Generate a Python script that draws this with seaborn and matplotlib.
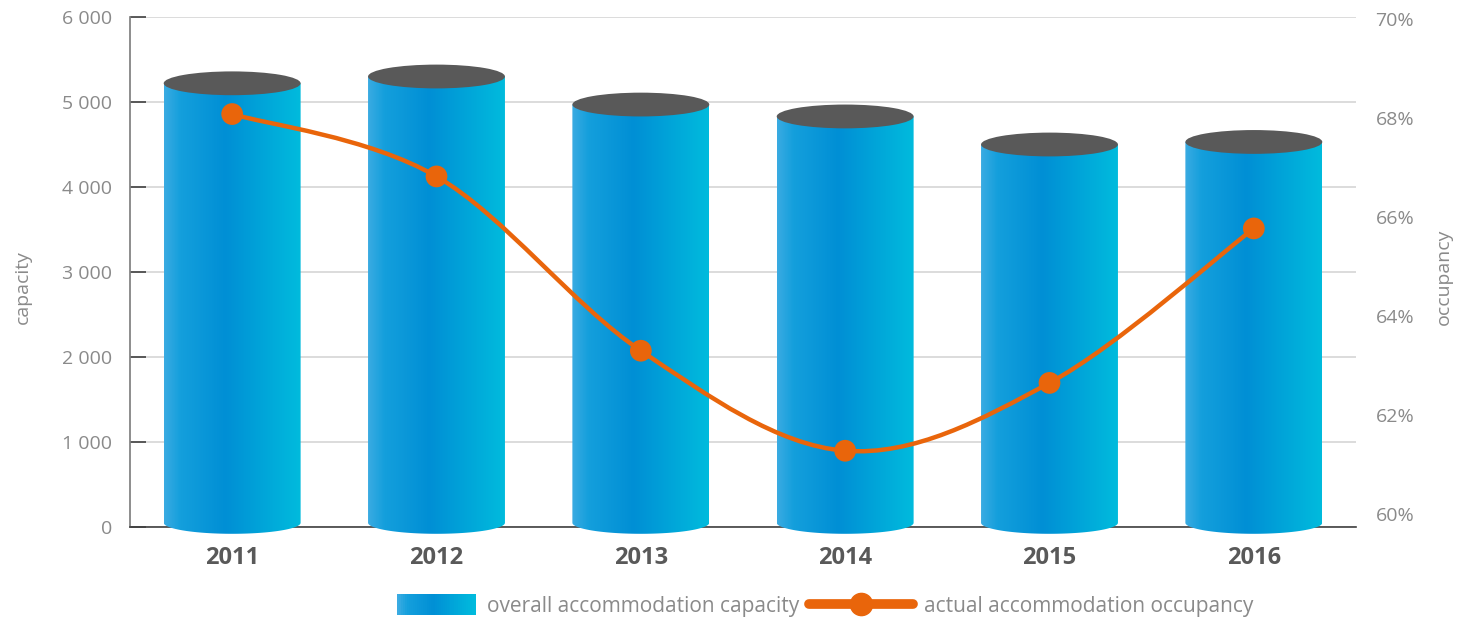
import numpy as np
import pandas as pd
import seaborn as sns
import matplotlib.pyplot as plt
from matplotlib.colors import LinearSegmentedColormap
from matplotlib.patches import Ellipse, Polygon, Rectangle, PathPatch
from matplotlib.path import Path
from matplotlib.lines import Line2D
from matplotlib.legend_handler import HandlerBase
from matplotlib.ticker import FuncFormatter, FixedLocator

# data
years = ['2011', '2012', '2013', '2014', '2015', '2016']
capacity = [5220, 5300, 4970, 4830, 4500, 4530]
occupancy = [68.08, 66.82, 63.30, 61.28, 62.65, 65.77]
cap_ticks = [0, 1000, 2000, 3000, 4000, 5000, 6000]
occ_ticks = [60, 62, 64, 66, 68, 70]

sns.set_theme(style='white')
plt.rcParams['font.family'] = ['Open Sans', 'DejaVu Sans']

BLUE = LinearSegmentedColormap.from_list(
    'cyl', [(0, '#3aabe2'), (0.12, '#149fdc'), (0.45, '#008fd5'), (1, '#00bbdd')])
ORANGE = '#e9650b'
TOP = '#595959'
GREY = '#8a8a8a'

fig = plt.figure(figsize=(14.59, 6.25), dpi=100)
ax = fig.add_axes([0.0891, 0.1568, 0.8403, 0.816])

df = pd.DataFrame({'year': years, 'capacity': capacity, 'occupancy': occupancy})
sns.barplot(data=df, x='year', y='capacity', ax=ax, width=0.67, alpha=0)

# cylinders drawn on top of the (invisible) seaborn bars
grad = np.linspace(0, 1, 256).reshape(1, -1)
top_h, bot_h, bot_c = 280, 260, 50
t = np.linspace(0, np.pi, 80)
for p in ax.patches:
    x0, w, h = p.get_x(), p.get_width(), p.get_height()
    cx = x0 + w / 2
    arc = np.column_stack([cx + w / 2 * np.cos(t), bot_c - bot_h / 2 * np.sin(t)])
    verts = np.vstack([[[x0, h], [x0 + w, h]], arc])
    clip = Polygon(verts, closed=True, transform=ax.transData)
    im = ax.imshow(grad, cmap=BLUE, extent=[x0, x0 + w, bot_c - bot_h / 2, h],
                   aspect='auto', zorder=3, interpolation='bicubic')
    im.set_clip_box(fig.bbox)
    im.set_clip_path(clip)
    ax.add_patch(Ellipse((cx, h), w, top_h, facecolor=TOP, edgecolor='none', zorder=3.1))

ax.set_xlim(-0.5, len(years) - 0.5)
ax.set_ylim(0, 6000)
ax.set_yticks(cap_ticks)
ax.yaxis.set_major_formatter(FuncFormatter(lambda v, _: f'{int(v):,}'.replace(',', ' ')))
ax.set_axisbelow(True)
ax.yaxis.grid(True, color='#d6d6d6', lw=1.2)
ax.xaxis.grid(False)
for s in ['top', 'right']:
    ax.spines[s].set_visible(False)
ax.spines['left'].set_color('#808080')
ax.spines['bottom'].set_color('#404040')
ax.spines['bottom'].set_linewidth(1.2)
ax.tick_params(axis='y', direction='in', length=11.5, width=1.2, color='#404040',
               labelsize=14, labelcolor=GREY, pad=13)
ax.xaxis.set_minor_locator(FixedLocator(np.arange(-0.5, len(years), 1.0)))
ax.tick_params(axis='x', which='major', length=0, pad=14, labelsize=17, labelcolor='#595959')
ax.tick_params(axis='x', which='minor', direction='out', length=26, width=1, color='#c8c8c8')
for lab in ax.get_xticklabels():
    lab.set_fontweight('bold')
ax.set_xlabel('')
ax.set_ylabel('capacity', fontsize=14, color=GREY)
ax.yaxis.set_label_coords(-0.080, 0.47)

# occupancy line on the right axis, smoothed with bezier segments
ax2 = ax.twinx()
xs = np.arange(len(years), dtype=float)
pts = np.column_stack([xs, occupancy])
ext = np.vstack([pts[0], pts, pts[-1]])
verts = [pts[0]]
codes = [Path.MOVETO]
for i in range(len(pts) - 1):
    p0, p1, p2, p3 = ext[i], ext[i + 1], ext[i + 2], ext[i + 3]
    verts += [p1 + (p2 - p0) / 6, p2 - (p3 - p1) / 6, p2]
    codes += [Path.CURVE4] * 3
ax2.add_patch(PathPatch(Path(verts, codes), facecolor='none', edgecolor=ORANGE,
                        lw=3.2, capstyle='round', zorder=3))
sns.scatterplot(x=xs, y=occupancy, ax=ax2, color=ORANGE, s=245, edgecolor='none',
                zorder=4, legend=False)
ax2.set_xlim(-0.5, len(years) - 0.5)
ax2.set_ylim(59.74, 70.04)
ax2.set_yticks(occ_ticks)
ax2.yaxis.set_major_formatter(FuncFormatter(lambda v, _: f'{v:.0f}%'))
ax2.tick_params(axis='y', length=0, labelsize=14, labelcolor=GREY, pad=14)
ax2.grid(False)
for s in ax2.spines.values():
    s.set_visible(False)
ax2.set_ylabel('occupancy', fontsize=14, color=GREY)
ax2.yaxis.set_label_coords(1.064, 0.49)


class GradientHandler(HandlerBase):
    def create_artists(self, legend, orig_handle, xdescent, ydescent, width, height,
                       fontsize, trans):
        n = 40
        w = width * 0.76
        arts = []
        for k in range(n):
            arts.append(Rectangle((-xdescent + width - w + w * k / n, -ydescent - height * 0.25),
                                  w / n * 1.05, height * 1.5,
                                  facecolor=BLUE(k / (n - 1)), edgecolor='none',
                                  transform=trans))
        return arts


bar_handle = Rectangle((0, 0), 1, 1)
line_handle = Line2D([], [], color=ORANGE, lw=7, marker='o', markersize=16)
leg = fig.legend([bar_handle, line_handle],
                 ['overall accommodation capacity', 'actual accommodation occupancy'],
                 handler_map={Rectangle: GradientHandler()},
                 loc='center', bbox_to_anchor=(0.557, 0.03), ncol=2, frameon=False,
                 fontsize=15, handlelength=5.0, columnspacing=0.5, handletextpad=0.5)
for txt in leg.get_texts():
    txt.set_color(GREY)

fig.savefig('out.png', dpi=100)
